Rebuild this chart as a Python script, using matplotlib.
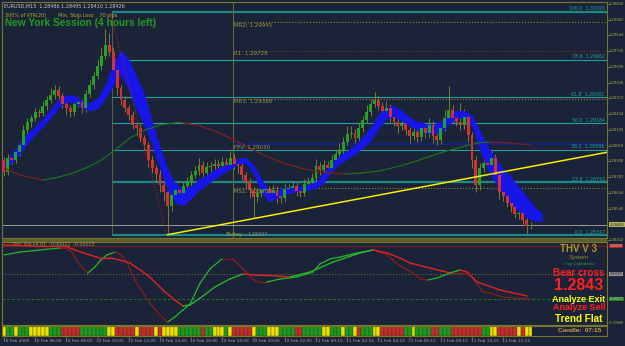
import numpy as np
import matplotlib.pyplot as plt
from matplotlib.collections import LineCollection
from matplotlib.patches import Rectangle

W, H = 625, 346
BG = '#1b2338'
OLIVE = '#77772f'
TEAL = '#22a2a2'

# EURUSD M15 candles, bar 0 = 10 Feb 04:00
first_open = 1.28910
close = [1.28820, 1.28925, 1.28910, 1.28970, 1.29022, 1.29135, 1.29195, 1.29225, 1.29270, 1.29262,
         1.29315, 1.29360, 1.29398, 1.29435, 1.29390, 1.29330, 1.29300, 1.29270, 1.29330, 1.29345,
         1.29300, 1.29405, 1.29472, 1.29540, 1.29615, 1.29690, 1.29772, 1.29720, 1.29585, 1.29450,
         1.29360, 1.29300, 1.29248, 1.29172, 1.29150, 1.29075, 1.29022, 1.28910, 1.28850, 1.28805,
         1.28722, 1.28670, 1.28565, 1.28648, 1.28685, 1.28662, 1.28715, 1.28745, 1.28798, 1.28828,
         1.28872, 1.28812, 1.28858, 1.28865, 1.28880, 1.28865, 1.28895, 1.28872, 1.28925, 1.28880,
         1.28865, 1.28798, 1.28745, 1.28685, 1.28632, 1.28662, 1.28685, 1.28692, 1.28662, 1.28685,
         1.28640, 1.28625, 1.28692, 1.28700, 1.28715, 1.28678, 1.28662, 1.28730, 1.28752, 1.28775,
         1.28865, 1.28835, 1.28872, 1.28850, 1.28910, 1.28955, 1.28985, 1.29045, 1.29105, 1.29112,
         1.29075, 1.29150, 1.29210, 1.29270, 1.29330, 1.29360, 1.29315, 1.29278, 1.29300, 1.29232,
         1.29195, 1.29165, 1.29180, 1.29135, 1.29090, 1.29120, 1.29082, 1.29150, 1.29112, 1.29172,
         1.29090, 1.29060, 1.29150, 1.29225, 1.29285, 1.29225, 1.29195, 1.29172, 1.29232, 1.29098,
         1.28910, 1.28722, 1.28850, 1.28888, 1.28872, 1.28925, 1.28798, 1.28670, 1.28640, 1.28588,
         1.28558, 1.28505, 1.28512, 1.28460, 1.28415, 1.28426]
# shadow lengths in pips
wick_up = [2, 3, 2, 3, 2, 4, 3, 2, 3, 2, 4, 3, 5, 4, 3, 2, 3, 2, 3, 4,
           2, 3, 4, 3, 5, 6, 12, 9, 4, 3, 2, 3, 2, 3, 2, 3, 2, 2, 3, 2,
           3, 2, 3, 4, 3, 2, 3, 4, 3, 4, 5, 3, 4, 3, 4, 3, 4, 3, 5, 3,
           2, 3, 2, 3, 2, 3, 4, 3, 2, 4, 3, 2, 4, 3, 4, 3, 2, 4, 3, 4,
           5, 3, 4, 3, 4, 3, 5, 4, 6, 5, 3, 4, 3, 5, 4, 6, 4, 3, 5, 3,
           2, 3, 4, 3, 2, 3, 2, 4, 3, 5, 3, 2, 4, 6, 18, 4, 5, 14, 6, 3,
           2, 3, 4, 3, 4, 5, 3, 2, 3, 2, 3, 2, 3, 2, 2, 2]
wick_dn = [3, 2, 3, 2, 3, 2, 3, 4, 2, 3, 2, 3, 2, 3, 4, 3, 5, 4, 3, 2,
           4, 3, 2, 3, 2, 3, 2, 3, 4, 5, 4, 3, 4, 3, 5, 3, 4, 5, 4, 6,
           5, 7, 20, 4, 3, 5, 3, 2, 3, 2, 3, 4, 3, 4, 2, 3, 2, 4, 3, 4,
           5, 4, 5, 6, 15, 4, 3, 4, 3, 4, 5, 4, 3, 2, 3, 4, 3, 2, 3, 2,
           3, 4, 3, 4, 2, 3, 2, 3, 2, 3, 4, 2, 3, 2, 3, 2, 3, 4, 3, 4,
           3, 5, 3, 4, 5, 3, 4, 3, 4, 3, 5, 4, 3, 2, 3, 4, 3, 4, 3, 5,
           6, 5, 4, 3, 4, 3, 4, 5, 4, 3, 4, 3, 4, 3, 5, 2]

# blue channel, every second bar
band_hi = [1.28880, 1.28960, 1.29040, 1.29110, 1.29165, 1.29225, 1.29290, 1.29365, 1.29400, 1.29395,
           1.29360, 1.29340, 1.29375, 1.29480, 1.29640, 1.29735, 1.29665, 1.29540, 1.29410, 1.29200,
           1.29010, 1.28840, 1.28735, 1.28695, 1.28715, 1.28768, 1.28800, 1.28838, 1.28868, 1.28892,
           1.28922, 1.28930, 1.28875, 1.28770, 1.28682, 1.28682, 1.28705, 1.28712, 1.28712, 1.28727,
           1.28750, 1.28815, 1.28890, 1.28945, 1.28982, 1.29025, 1.29085, 1.29160, 1.29250, 1.29310,
           1.29318, 1.29282, 1.29230, 1.29200, 1.29186, 1.29178, 1.29207, 1.29258, 1.29282, 1.29282,
           1.29245, 1.29130, 1.29018, 1.28928, 1.28845, 1.28785, 1.28712, 1.28637, 1.28562, 1.28510]
band_lo = [1.28835, 1.28890, 1.28950, 1.29030, 1.29100, 1.29160, 1.29228, 1.29300, 1.29345, 1.29340,
           1.29300, 1.29280, 1.29292, 1.29370, 1.29465, 1.29550, 1.29435, 1.29285, 1.29165, 1.29020,
           1.28845, 1.28675, 1.28585, 1.28570, 1.28620, 1.28680, 1.28722, 1.28768, 1.28806, 1.28842,
           1.28878, 1.28886, 1.28806, 1.28665, 1.28595, 1.28625, 1.28646, 1.28668, 1.28676, 1.28684,
           1.28698, 1.28738, 1.28826, 1.28878, 1.28916, 1.28955, 1.29000, 1.29055, 1.29145, 1.29218,
           1.29232, 1.29202, 1.29165, 1.29135, 1.29112, 1.29105, 1.29112, 1.29172, 1.29225, 1.29217,
           1.29160, 1.28985, 1.28835, 1.28738, 1.28648, 1.28580, 1.28525, 1.28478, 1.28452, 1.28450]

# slow moving average
ma_bars = [0, 4, 10, 13, 17, 21, 25, 28.5, 32.3, 36.2, 40, 45.1, 50.3, 55.4, 60.5, 65.6, 70.8,
           75.9, 81, 87.4, 91.3, 96.4, 101.5, 104.9, 112.6, 121.3, 124.6, 129.7, 134.9]
ma_vals = [1.28850, 1.28798, 1.28760, 1.28775, 1.28805, 1.28850, 1.28910, 1.28985, 1.29075, 1.29135,
           1.29172, 1.29195, 1.29165, 1.29112, 1.29038, 1.28962, 1.28895, 1.28850, 1.28820, 1.28805,
           1.28812, 1.28828, 1.28865, 1.28895, 1.28970, 1.29038, 1.29045, 1.29038, 1.29022]

fib_levels = [100.0, 78.6, 61.8, 50.0, 38.2, 23.6, 0.0]
fib_prices = [1.30020, 1.29662, 1.29381, 1.29184, 1.28986, 1.28742, 1.28347]
pivot_names = ['MR2', 'R1', 'MR1', 'FPV', 'MS1']
pivot_prices = [1.29945, 1.29728, 1.29368, 1.29030, 1.28700]
trend_bars = [42, 120]
trend_prices = [1.28350, 1.28778]
bid = 1.28426
axis_ticks = [1.30080, 1.29962, 1.29844, 1.29726, 1.29608, 1.29490, 1.29372, 1.29254,
              1.29136, 1.29018, 1.28900, 1.28782, 1.28664, 1.28546, 1.28310]

# THV Trix lines (lower window)
ta_bars = [0, 8, 15.6, 18.2, 22, 24.6, 27.2, 29.7, 32.3, 34.9, 37.4, 41.3, 43.8, 45.9, 47.7, 50.3,
           54.1, 57.9, 61.3, 64.4, 70, 73.3, 78.5, 84.4, 91.3, 94.6, 98.2, 101.5, 104.1, 109.2,
           114.4, 116.9, 118.7, 121.3, 127.2, 134.1]
ta_vals = [0.00029, 0.00028, 0.00028, 0.00024, 0.00019, 0.00016, 0.00016, 0.00014, 0.00011, 0.00004,
           -0.00003, -0.00018, -0.00026, -0.00032, -0.00031, -0.00024, -0.00013, -0.00005, 0.00000, -0.00001,
           -0.00002, -0.00003, 0.00002, 0.00012, 0.00021, 0.00024, 0.00021, 0.00016, 0.00011, 0.00006,
           0.00001, 0.00004, 0.00002, -0.00008, -0.00016, -0.00022]
tb_bars = [0, 4.1, 9.2, 14.4, 15.9, 17.4, 19.5, 21.5, 23.3, 24.6, 26.4, 28.5, 29.7, 31.5, 33.6, 35.6,
           37.4, 39.5, 41.3, 42, 43.8, 45.9, 47.7, 50.3, 52.8, 55.9, 58.7, 60.5, 62.3, 63.8, 65.1,
           67.4, 70.8, 75.1, 79.2, 81, 83.6, 86.2, 90.5, 94.6, 96.4, 98.2, 100.3, 101.5, 104.9, 106.7,
           108.7, 111, 114.4, 116.9, 119.5, 121.3, 122.8, 124.6, 127.9, 131, 134.9]
tb_vals = [0.00019, 0.00022, 0.00024, 0.00026, 0.00026, 0.00022, 0.00009, 0.00001, 0.00007, 0.00013,
           0.00019, 0.00022, 0.00020, 0.00012, -0.00006, -0.00019, -0.00029, -0.00039, -0.00046, -0.00048,
           -0.00043, -0.00036, -0.00030, -0.00009, 0.00005, 0.00015, 0.00015, 0.00008, 0.00001, -0.00005,
           -0.00008, -0.00008, -0.00005, -0.00003, 0.00002, 0.00010, 0.00015, 0.00017, 0.00021, 0.00024,
           0.00022, 0.00019, 0.00012, 0.00008, 0.00001, -0.00005, -0.00006, -0.00004, 0.00001, 0.00001,
           -0.00001, -0.00010, -0.00018, -0.00019, -0.00023, -0.00024, -0.00025]

# signal strip: G green, R red, Y yellow
strip_codes = ('YGGYGGGYYY' 'YYGGGRRRRR' 'GGGGGGGYYR' 'RRRRYRRRRY' 'RYYYYGGGGG'
               'GRGGYYYGYR' 'RRRRYGGGYY' 'YGGGGRRGGG' 'GGYYGGGYGG' 'YRGGGYYRRR'
               'RRRGGYGGGG' 'RRGGGRRRRR' 'RRRGGYYRRR' 'RRYRYY')

time_labels = ['10 Feb 2009', '10 Feb 06:00', '10 Feb 08:00', '10 Feb 10:00', '10 Feb 12:00',
               '10 Feb 14:00', '10 Feb 16:00', '10 Feb 18:00', '10 Feb 20:00', '10 Feb 22:00',
               '11 Feb 00:15', '11 Feb 02:15', '11 Feb 04:15', '11 Feb 06:15', '11 Feb 08:15',
               '11 Feb 10:15', '11 Feb 12:15']


def box(x0, y0, x1, y1):
    return [x0 / W, 1 - y1 / H, (x1 - x0) / W, (y1 - y0) / H]


def slope_line(a, xs, ys, up_col, dn_col, lw):
    xs = np.asarray(xs, float)
    ys = np.asarray(ys, float)
    pts = np.column_stack([xs, ys])
    segs = np.stack([pts[:-1], pts[1:]], axis=1)
    cols = [up_col if y1 > y0 else dn_col for y0, y1 in zip(ys[:-1], ys[1:])]
    a.add_collection(LineCollection(segs, colors=cols, linewidths=lw, capstyle='round', zorder=4))


fig = plt.figure(figsize=(W / 100, H / 100), dpi=100, facecolor=BG)
ax = fig.add_axes(box(2, 2, 607, 238))
axi = fig.add_axes(box(2, 242, 607, 325))
axs = fig.add_axes(box(2, 326, 607, 336))
XL = (-0.5, 154.6)
for a in (ax, axi, axs):
    a.set_facecolor(BG)
    a.set_xlim(XL)
    a.set_xticks([])
    a.set_yticks([])
    for s in a.spines.values():
        s.set_color(OLIVE)
        s.set_linewidth(0.8)
fig.patches.append(Rectangle((2 / W, 1 - 242 / H), 605 / W, 3.5 / H, transform=fig.transFigure,
                             facecolor='#5e5e26', edgecolor='none'))

ax.set_ylim(1.28325, 1.30095)

# --- main window --------------------------------------------------------
n = len(close)
bars = np.arange(n)
c = np.array(close)
o = np.array([first_open] + close[:-1])
hi = np.maximum(o, c) + np.array(wick_up) * 1e-4
lo = np.minimum(o, c) - np.array(wick_dn) * 1e-4
ax.vlines(bars, lo, hi, color='#8a8a30', lw=0.6, zorder=2)

band_bars = np.arange(0, 2 * len(band_hi), 2)
ax.fill_between(band_bars, band_lo, band_hi, color='#1616e8', lw=0, zorder=2.5)

body_col = np.where(c >= o, '#22a322', '#d63030')
height = np.maximum(np.abs(c - o), 0.00004)
ax.bar(bars, height, bottom=np.minimum(o, c), width=0.75, color=body_col, lw=0, zorder=3)

slope_line(ax, ma_bars, ma_vals, '#1f6e1f', '#7c2020', 0.9)

# fibonacci retracement
fib_x0 = 27.7
for lvl, p in zip(fib_levels, fib_prices):
    thick = lvl in (100.0, 0.0, 23.6)
    ax.hlines(p, fib_x0, XL[1], color='#1b8a86' if thick else TEAL, lw=1.6 if thick else 0.8, zorder=1.5)
    ax.text(XL[1] - 0.6, p + 0.00004, f'{lvl:.1f}  {p:.5f}', color=TEAL, fontsize=3.4,
            ha='right', va='bottom', zorder=5)
ax.vlines(fib_x0, fib_prices[-1], fib_prices[0], color='#6a6a3a', lw=0.6, zorder=1.5)
ax.plot([27.2, 41.8], [fib_prices[0], fib_prices[-1]], color='#962424', ls=(0, (1, 1.5)), lw=0.8, zorder=4)

# pivots
piv_x0 = 58.7
ax.axvline(piv_x0, color='#6e6e34', lw=0.7, zorder=1.5)
piv_style = {'MR2': ('#8a8a30', ':', 0.8), 'R1': ('#8a2a2a', ':', 0.8), 'MR1': ('#8a8a30', ':', 0.8),
             'FPV': ('#16248a', '-', 1.2), 'MS1': ('#8a8a30', ':', 0.8)}
for name, p in zip(pivot_names, pivot_prices):
    col, ls, lw = piv_style[name]
    ax.hlines(p, piv_x0, XL[1], color=col, ls=ls, lw=lw, zorder=1.6)
    ax.text(piv_x0 + 0.2, p - 0.00004, f'{name}: {p:.5f}', color='#9a9a3c', fontsize=4,
            ha='left', va='top', zorder=5)
ax.text(56.7, 1.28350, 'Today', color='#a0a040', fontsize=4.3, ha='left', va='center', zorder=5)
ax.text(62.5, 1.28350, f'{fib_prices[-1]:.5f}', color='#8a8a70', fontsize=3.6, ha='left', va='center', zorder=5)

# trend line and bid line
slope = (trend_prices[1] - trend_prices[0]) / (trend_bars[1] - trend_bars[0])
ax.plot([trend_bars[0], XL[1]], [trend_prices[0], trend_prices[0] + slope * (XL[1] - trend_bars[0])],
        color='#f2f200', lw=1.1, zorder=4.5)
ax.axhline(bid, color='#9a9a9a', lw=0.7, zorder=1.7)

# price scale
ytr = ax.get_yaxis_transform()
for v in axis_ticks:
    ax.plot([1, 1.005], [v, v], transform=ytr, color=OLIVE, lw=0.6, clip_on=False)
    ax.text(1.003, v, f'{v:.5f}', transform=ytr, color='#a6a640', fontsize=3.1, va='center',
            ha='left', family='Liberation Sans', clip_on=False)
ax.text(1.004, bid, f'{bid:.5f}', transform=ytr, color='#1e1e10', fontsize=2.9, va='center', ha='left',
        family='Liberation Sans', clip_on=False,
        bbox=dict(boxstyle='square,pad=0.12', fc='#b4b45a', ec='none'))

fig.text(4 / W, 1 - 6 / H, 'EURUSD,M15  1.28486 1.28495 1.28410 1.28426', color='#c8c8b4',
         fontsize=3.5, va='center', ha='left')
fig.text(5 / W, 1 - 15.5 / H, '300% of ATR(20)        Min. Stop Loss:   70 pips', color='#b0b034',
         fontsize=3.5, va='center', ha='left')
fig.text(5 / W, 1 - 23 / H, 'New York Session (4 hours left)', color='#1f9c1f', fontsize=7.3,
         fontweight='bold', family='Liberation Sans', va='center', ha='left')

# --- indicator window ----------------------------------------------------
axi.set_ylim(-0.00051, 0.00032)
axi.axhline(0.00028, color='#7a1c1c', lw=0.8)
axi.axhline(0.0, color='#7a7a3a', lw=0.7, ls=(0, (1, 2)))
axi.axhline(-0.00025, color='#1e7a1e', lw=0.7, ls=(0, (3, 2)))
slope_line(axi, tb_bars, tb_vals, '#2ab42a', '#8c1c1c', 0.9)
slope_line(axi, ta_bars, ta_vals, '#2ab42a', '#e02424', 1.0)
axi.text(2, 0.00029, 'THV Trix v4.01  -0.00022  -0.00025', color='#a0a050', fontsize=3.4,
         ha='left', va='center')

itr = axi.get_yaxis_transform()
ind_labels = [(0.00028, '0.00028', '#b42020', '#e6d8c8'), (0.0, '0.00000', '#9a9a9a', '#1e1e1e'),
              (-0.00025, '-0.00025', '#1e7a1e', '#e0e0c0')]
for v, s, fc, tc in ind_labels:
    axi.text(1.004, v, s, transform=itr, color=tc, fontsize=2.6, va='center', ha='left',
             family='Liberation Sans', clip_on=False,
             bbox=dict(boxstyle='square,pad=0.12', fc=fc, ec='none'))
axi.text(1.003, -0.00049, '-0.00049', transform=itr, color='#a6a640', fontsize=2.8,
         va='center', ha='left', family='Liberation Sans', clip_on=False)

# signal block
sig = [('THV V 3', 249, '#a89a2a', 7.0, 'bold'), ('System', 257.5, '#8a8a30', 4.3, 'normal'),
       ('\u00a9 by Cobraforex', 264, '#30a030', 3.2, 'normal'), ('Bear cross', 273.5, '#ff2020', 7.2, 'bold'),
       ('1.2843', 285.5, '#ff2020', 11.5, 'bold'), ('Analyze Exit', 300, '#ffff00', 6.5, 'bold'),
       ('Analyze Sell', 307.5, '#ff2020', 6.5, 'bold'), ('Trend Flat', 319, '#ffff00', 7.1, 'bold')]
for s, y, col, fs, fw in sig:
    fig.text(579 / W, 1 - y / H, s, color=col, fontsize=fs, fontweight=fw, family='Liberation Sans',
             ha='center', va='center')

# --- signal strip + time scale --------------------------------------------
axs.set_ylim(0, 1)
strip_map = {'G': '#1f981f', 'R': '#c62c2c', 'Y': '#f2e000'}
axs.bar(np.arange(len(strip_codes)), 1, bottom=0, width=1.0,
        color=[strip_map[k] for k in strip_codes], edgecolor='#1a3a1a', lw=0.25)
fig.text(580 / W, 1 - 331 / H, 'Candle:  07:15', color='#d4a440', fontsize=4.6, fontweight='bold',
         family='Liberation Sans', ha='center', va='center')

xtr = axs.get_xaxis_transform()
for k, lab in enumerate(time_labels):
    b = 8 * k
    axs.plot([b, b], [0, -0.25], transform=xtr, color=OLIVE, lw=0.5, clip_on=False)
    axs.text(b - 0.3, -0.55, lab, transform=xtr, color='#a8a890', fontsize=3.1, ha='left',
             va='center', clip_on=False)

fig.savefig('out.png', dpi=100, facecolor=BG)
